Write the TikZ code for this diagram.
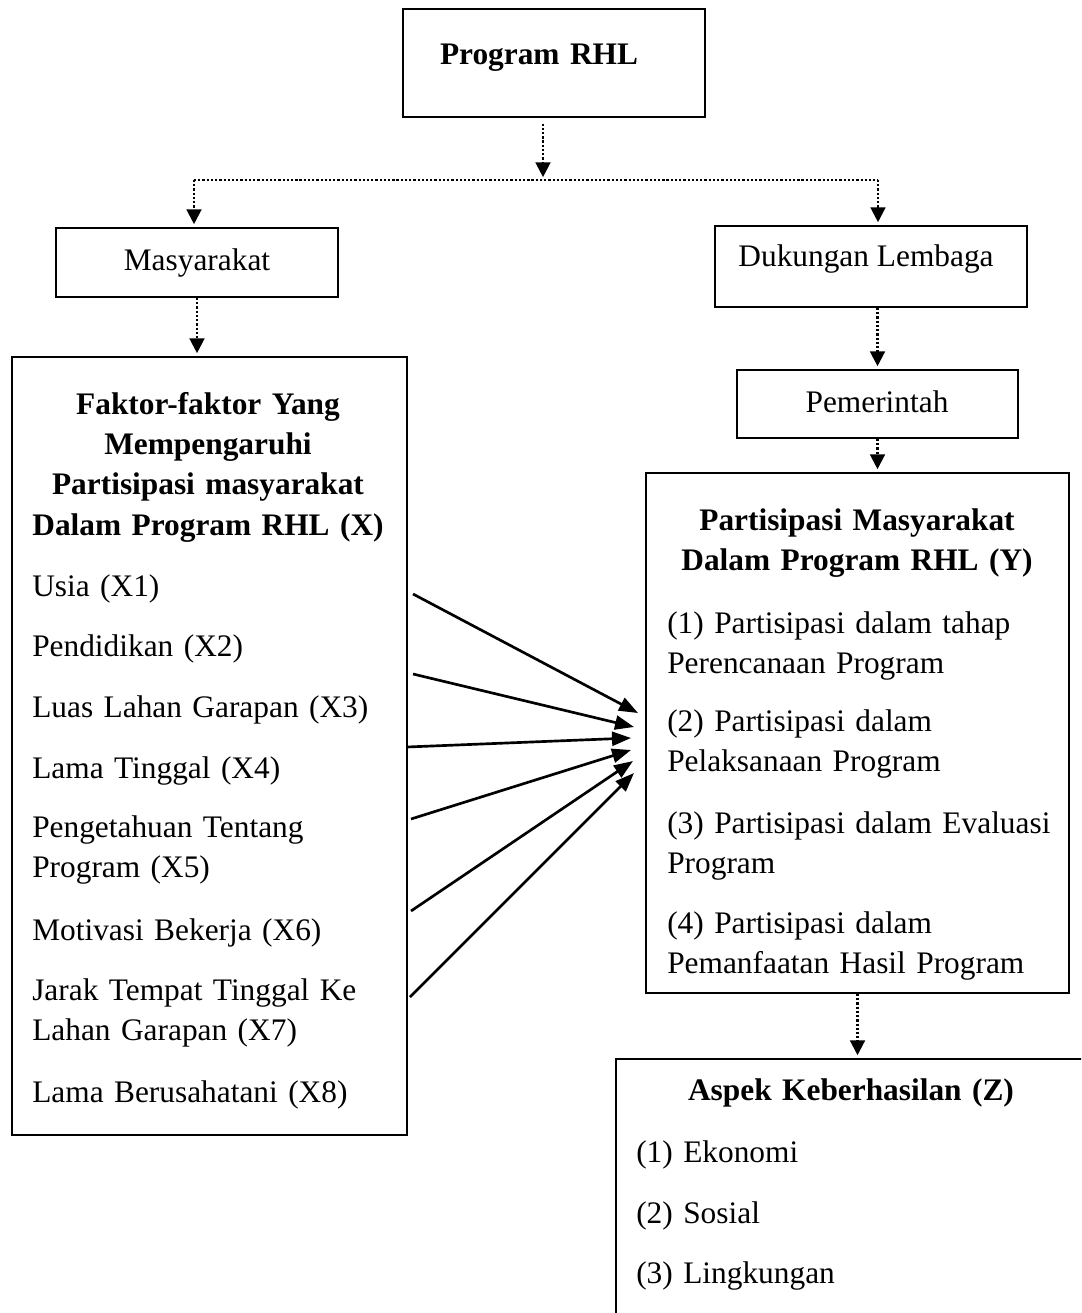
\documentclass[tikz,border=0pt]{standalone}
\usepackage{fontspec}
\setmainfont{Liberation Serif}
\usetikzlibrary{arrows.meta,fit,positioning}

\begin{document}
\begin{tikzpicture}[x=0.025cm,y=-0.025cm]
             \tikzstyle{box} = [draw,line width=1.4pt,inner sep=0pt]
             \tikzstyle{txt} = [inner sep=0pt,font=\fontsize{22.3pt}{28.8pt}\selectfont]
             \tikzstyle{head} = [txt,font=\fontsize{22.3pt}{28.8pt}\selectfont\bfseries,align=center,text width=12cm,anchor=base]
             \tikzstyle{item} = [txt,anchor=base west,align=left,text width=12cm]
             \tikzstyle{dotline} = [line width=1.6pt,dash pattern=on 1.6pt off 1.4pt]
             \tikzstyle{dotarrow} = [dotline,shorten >=2pt,-{Triangle[length=10.5pt,width=10.5pt]}]
             \tikzstyle{effect} = [line width=1.9pt,-{Triangle[length=13.5pt,width=10pt]}]
		\clip (0,0) rectangle (1081,1313);
		% Program
		\node[box,fit={(403,9) (705,117)}] (prog) {};
		\node[head] (progtxt) at (539,65) {Program RHL};
		% Masyarakat / Lembaga
		\node[box,fit={(56,228) (338,297)}] (masy) {};
		\node[txt,anchor=base] (masytxt) at (197,271) {Masyarakat};
		\node[box,fit={(715,226) (1027,307)}] (duk) {};
		\node[txt,anchor=base] (duktxt) at (866,267) {Dukungan Lembaga};
		\node[box,fit={(737,370) (1018,438)}] (pem) {};
		\node[txt,anchor=base] (pemtxt) at (877,412) {Pemerintah};
		% Variabel X
		\node[box,fit={(12,357) (407,1135)}] (xbox) {};
		\node[head] (xhead) at (208,414) {Faktor-faktor Yang\\Mempengaruhi\\Partisipasi masyarakat\\Dalam Program RHL (X)};
		\node[item] (x1) at (32,596) {Usia (X1)};
		\node[item] (x2) at (32,656) {Pendidikan (X2)};
		\node[item] (x3) at (32,717) {Luas Lahan Garapan (X3)};
		\node[item] (x4) at (32,778) {Lama Tinggal (X4)};
		\node[item] (x5) at (32,837) {Pengetahuan Tentang\\Program (X5)};
		\node[item] (x6) at (32,940) {Motivasi Bekerja (X6)};
		\node[item] (x7) at (32,1000) {Jarak Tempat Tinggal Ke\\Lahan Garapan (X7)};
		\node[item] (x8) at (32,1102) {Lama Berusahatani (X8)};
		% Variabel Y
		\node[box,fit={(646,473) (1069,993)}] (ybox) {};
		\node[head] (yhead) at (857,530) {Partisipasi Masyarakat\\Dalam Program RHL (Y)};
		\node[item] (y1) at (667,633) {(1) Partisipasi dalam tahap\\Perencanaan Program};
		\node[item] (y2) at (667,731) {(2) Partisipasi dalam\\Pelaksanaan Program};
		\node[item] (y3) at (667,833) {(3) Partisipasi dalam Evaluasi\\Program};
		\node[item] (y4) at (667,933) {(4) Partisipasi dalam\\Pemanfaatan Hasil Program};
		% Variabel Z
		\node[box,fit={(616,1059) (1090,1325)}] (zbox) {};
		\node[head] (zhead) at (851,1100) {Aspek Keberhasilan (Z)};
		\node[item] (z1) at (636,1162) {(1) Ekonomi};
		\node[item] (z2) at (636,1223) {(2) Sosial};
		\node[item] (z3) at (636,1283) {(3) Lingkungan};
		% Dotted links
		\coordinate (jn) at (543,180);
		\coordinate (jl) at (194,180);
		\coordinate (jr) at (878,180);
		\draw[dotarrow,shorten <=4pt] (prog.south -| jn) -- (jn);
		\draw[dotline] (jl) -- (jr);
		\draw[dotarrow] (jl) -- (jl |- masy.north);
		\draw[dotarrow] (jr) -- (jr |- duk.north);
		\draw[dotarrow] (masy.south) -- (masy.south |- xbox.north);
		\draw[dotarrow] (pem.north |- duk.south) -- (pem.north);
		\draw[dotarrow] (pem.south) -- (pem.south |- ybox.north);
		\draw[dotarrow] (ybox.south) -- (ybox.south |- zbox.north);
		% X -> Y
		\coordinate (s1) at (413,594);  \coordinate (t1) at (638,713);
		\coordinate (s2) at (413,674);  \coordinate (t2) at (634,727);
		\coordinate (s3) at (407,747);  \coordinate (t3) at (631,738);
		\coordinate (s4) at (411,819);  \coordinate (t4) at (631,750);
		\coordinate (s5) at (411,911);  \coordinate (t5) at (633,761);
		\coordinate (s6) at (410,997);  \coordinate (t6) at (634,773);
		\draw[effect] (s1) -- (t1);
		\draw[effect] (s2) -- (t2);
		\draw[effect] (s3) -- (t3);
		\draw[effect] (s4) -- (t4);
		\draw[effect] (s5) -- (t5);
		\draw[effect] (s6) -- (t6);
\end{tikzpicture}
\end{document}
